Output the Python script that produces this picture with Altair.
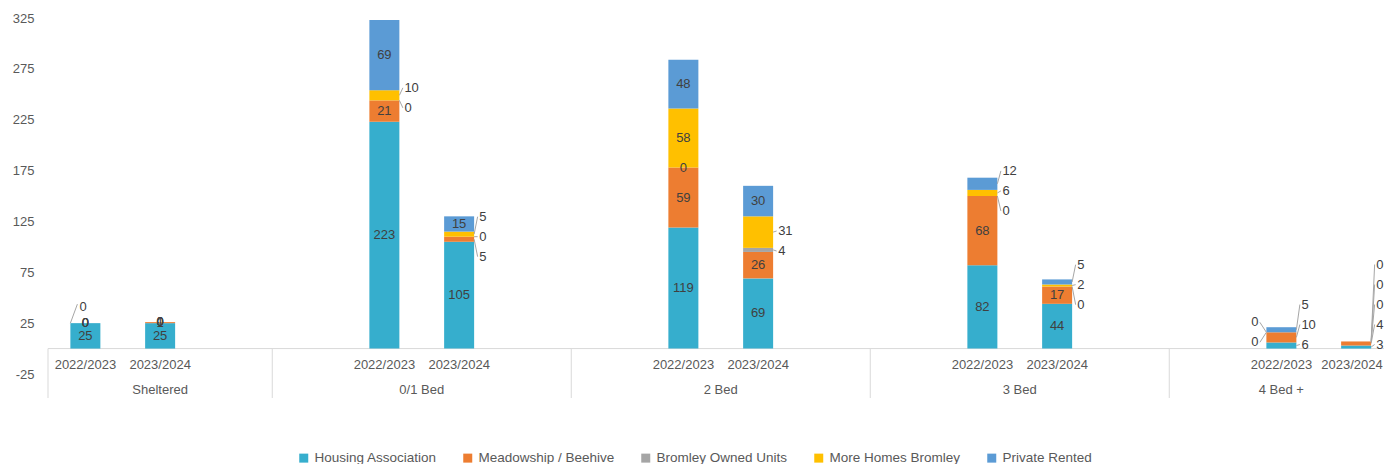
import altair as alt
import pandas as pd

# ---------------- data ----------------
groups = ["Sheltered", "0/1 Bed", "2 Bed", "3 Bed", "4 Bed +"]
years = ["2022/2023", "2023/2024"]
series = ["Housing Association", "Meadowship / Beehive", "Bromley Owned Units",
          "More Homes Bromley", "Private Rented"]
colors = ["#36AECD", "#ED7D31", "#A5A5A5", "#FFC000", "#5B9BD5"]

# values per bar, order: group x year
housing_association = [25, 25, 223, 105, 119, 69, 82, 44, 6, 3]
meadowship_beehive = [0, 1, 21, 5, 59, 26, 68, 17, 10, 4]
bromley_owned_units = [0, 0, 0, 0, 0, 4, 0, 0, 0, 0]
more_homes_bromley = [0, 0, 10, 5, 58, 31, 6, 2, 0, 0]
private_rented = [0, 0, 69, 15, 48, 30, 12, 5, 5, 0]
y_ticks = [-25, 25, 75, 125, 175, 225, 275, 325]

values = dict(zip(series, [housing_association, meadowship_beehive, bromley_owned_units,
                           more_homes_bromley, private_rented]))

# labels shown as callouts (outside the bar) -- everything else is inside
callouts = {
    ("Sheltered", "2022/2023"): {"above": ["Private Rented"]},
    ("0/1 Bed", "2022/2023"): {"right": ["More Homes Bromley", "Bromley Owned Units"]},
    ("0/1 Bed", "2023/2024"): {"right": ["More Homes Bromley", "Bromley Owned Units", "Meadowship / Beehive"]},
    ("2 Bed", "2023/2024"): {"right": ["More Homes Bromley", "Bromley Owned Units"]},
    ("3 Bed", "2022/2023"): {"right": ["Private Rented", "More Homes Bromley", "Bromley Owned Units"]},
    ("3 Bed", "2023/2024"): {"right": ["Private Rented", "More Homes Bromley", "Bromley Owned Units"]},
    ("4 Bed +", "2022/2023"): {"right": ["Private Rented", "Meadowship / Beehive", "Housing Association"],
                              "left": ["More Homes Bromley", "Bromley Owned Units"]},
    ("4 Bed +", "2023/2024"): {"right": ["Private Rented", "More Homes Bromley", "Bromley Owned Units",
                                         "Meadowship / Beehive", "Housing Association"]},
}

# ---------------- layout ----------------
PLOT_W, PLOT_H = 1336, 356
SLOT = 74.75
XMAX = PLOT_W / SLOT
YMIN, YMAX = -25, 325
PXU = PLOT_H / (YMAX - YMIN)
BAR_W = 30
CALLOUT_GAP = 5
YEAR_LABEL_HALF = 32  # px, keeps the last category label inside the view
group_slots = [3, 4, 4, 4, 3]
group_lead = [0, 1, 1, 1, 1]
group_start = [sum(group_slots[:i]) for i in range(len(groups))]

FONT = "Liberation Sans"
TXT = "#404040"
AX = "#595959"

rows, labels_in, labels_r, labels_l, labels_a, leaders = [], [], [], [], [], []
for gi, g in enumerate(groups):
    for yi, yr in enumerate(years):
        k = gi * 2 + yi
        pos = group_start[gi] + group_lead[gi] + yi + 0.5
        base = 0
        segs = {}
        for si, s in enumerate(series):
            v = values[s][k]
            segs[s] = (base, base + v, v)
            rows.append(dict(group=g, year=yr, series=s, order=si, value=v,
                             y0=base, y1=base + v, pos=pos))
            base += v
        co = callouts.get((g, yr), {})
        outside = set(sum(co.values(), []))
        for s in series:
            y0, y1, v = segs[s]
            if s not in outside:
                labels_in.append(dict(pos=pos, y=(y0 + y1) / 2, text=str(v)))
        half = BAR_W / 2 / SLOT
        for side, lst in co.items():
            if side == "above":
                for s in lst:
                    y0, y1, v = segs[s]
                    lx = pos - half + 9 / SLOT
                    ly = y1 + 16 / PXU
                    labels_a.append(dict(pos=lx, y=ly, text=str(v)))
                    leaders.append(dict(x=pos - half, y=y1, x2=lx - 2 / SLOT, y2=ly + 3 / PXU))
                continue
            mids = [(segs[s][0] + segs[s][1]) / 2 for s in lst]
            n = len(lst)
            sp = 20 / PXU
            center = sum(mids) / n
            bottom = center - (n - 1) / 2 * sp
            if bottom < 4:
                center += 4 - bottom
            for j, s in enumerate(lst):
                y0, y1, v = segs[s]
                ly = center + ((n - 1) / 2 - j) * sp
                mid = (y0 + y1) / 2
                if side == "right":
                    lx = pos + half + CALLOUT_GAP / SLOT
                    labels_r.append(dict(pos=lx, y=ly, text=str(v)))
                    leaders.append(dict(x=pos + half, y=mid, x2=lx - 1.5 / SLOT, y2=ly))
                else:
                    lx = pos - half - (CALLOUT_GAP + 3) / SLOT
                    labels_l.append(dict(pos=lx, y=ly, text=str(v)))
                    leaders.append(dict(x=pos - half, y=mid, x2=lx + 1.5 / SLOT, y2=ly))

df = pd.DataFrame(rows)
year_df = df[["pos", "year"]].drop_duplicates().copy()
year_df["pos"] = year_df["pos"].clip(upper=XMAX - YEAR_LABEL_HALF / SLOT)
grp_df = pd.DataFrame(dict(group=groups,
                           pos=[group_start[i] + group_slots[i] / 2 for i in range(len(groups))]))
sep_df = pd.DataFrame(dict(pos=group_start))

xs = alt.Scale(domain=[0, XMAX], nice=False, zero=False, padding=0)
ys = alt.Scale(domain=[YMIN, YMAX], nice=False, zero=False, padding=0)
y_axis = alt.Axis(values=y_ticks, grid=False, domain=False, ticks=False,
                  labelPadding=14, labelFont=FONT, labelFontSize=13,
                  labelColor=AX, title=None, labelExpr="datum.value + ''")


def X(f):
    return alt.X(f, type="quantitative", scale=xs, axis=None)


def Yn(f):
    return alt.Y(f, type="quantitative", scale=ys, axis=y_axis, title=None)


bars = alt.Chart(df).mark_bar(size=BAR_W).encode(
    x=X("pos"),
    y=Yn("y0"),
    y2="y1:Q",
    color=alt.Color("series:N", scale=alt.Scale(domain=series, range=colors),
                    legend=alt.Legend(title=None, orient="none", direction="horizontal",
                                      columns=5, legendX=249, legendY=433,
                                      symbolType="square", symbolSize=81,
                                      symbolStrokeWidth=0, labelFont=FONT,
                                      labelFontSize=13.5, labelColor=AX,
                                      columnPadding=24, labelOffset=4, padding=0)),
    order=alt.Order("order:Q"),
)

txt_kw = dict(font=FONT, fontSize=13, color=TXT, baseline="middle")
inside = alt.Chart(pd.DataFrame(labels_in)).mark_text(align="center", **txt_kw).encode(
    x=X("pos"), y=Yn("y"), text="text:N")
right = alt.Chart(pd.DataFrame(labels_r)).mark_text(align="left", **txt_kw).encode(
    x=X("pos"), y=Yn("y"), text="text:N")
left = alt.Chart(pd.DataFrame(labels_l)).mark_text(align="right", **txt_kw).encode(
    x=X("pos"), y=Yn("y"), text="text:N")
above = alt.Chart(pd.DataFrame(labels_a)).mark_text(align="left", **txt_kw).encode(
    x=X("pos"), y=Yn("y"), text="text:N")
lead = alt.Chart(pd.DataFrame(leaders)).mark_rule(color="#A6A6A6", strokeWidth=1).encode(
    x=X("x"), x2="x2:Q", y=Yn("y"), y2="y2:Q")

baseline = alt.Chart(pd.DataFrame({"v": [0]})).mark_rule(color="#D9D9D9", strokeWidth=1).encode(
    y=Yn("v"))
seps = alt.Chart(sep_df).mark_rule(color="#D9D9D9", strokeWidth=1).encode(
    x=X("pos"), y=alt.datum(0, scale=ys), y2=alt.value(380))
year_txt = alt.Chart(year_df).mark_text(font=FONT, fontSize=13, color=AX, baseline="middle").encode(
    x=X("pos"), y=alt.value(347), text="year:N")
grp_txt = alt.Chart(grp_df).mark_text(font=FONT, fontSize=13, color=AX, baseline="middle").encode(
    x=X("pos"), y=alt.value(372), text="group:N")

chart = alt.layer(baseline, seps, bars, lead, inside, right, left, above, year_txt, grp_txt).properties(
    width=PLOT_W, height=PLOT_H,
    autosize=alt.AutoSizeParams(type="none"),
    padding={"left": 40, "top": 10, "right": 0, "bottom": 90},
).configure_view(stroke=None)

chart.save("out.html", embed_options={"renderer": "svg", "actions": False})
